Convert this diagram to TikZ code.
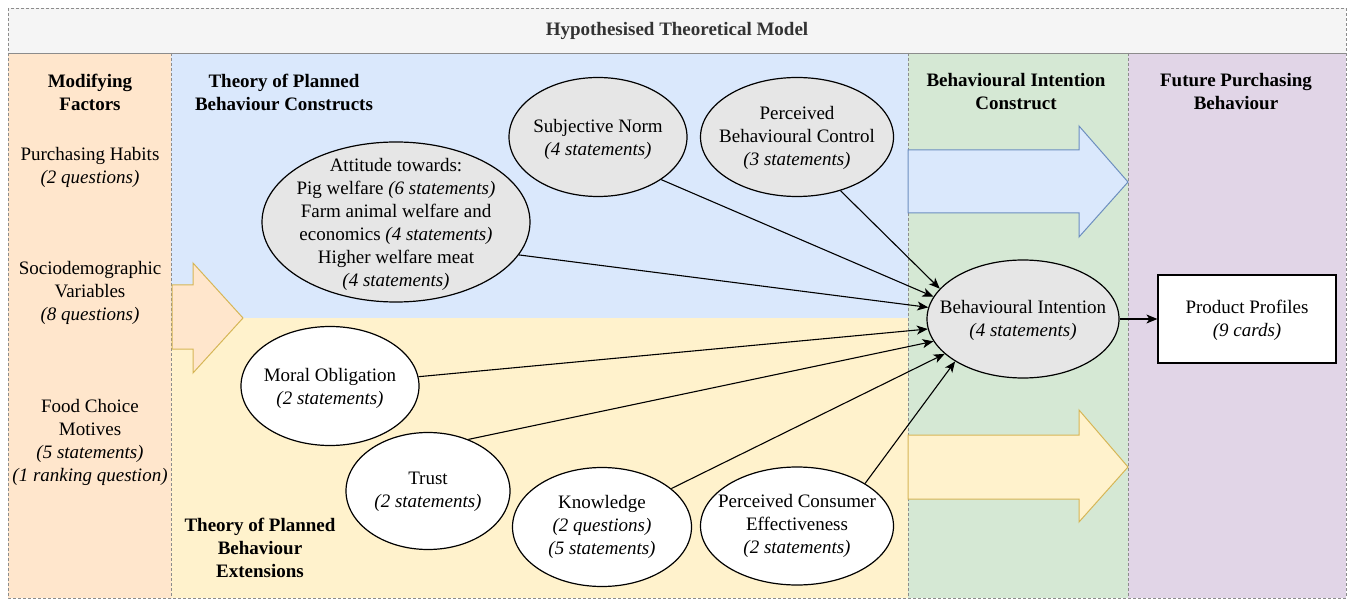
\documentclass[tikz,border=0pt]{standalone}
\usepackage{fontspec}
\setmainfont{LiberationSerif}[Extension=.ttf, UprightFont=*-Regular, BoldFont=*-Bold, ItalicFont=*-Italic, BoldItalicFont=*-BoldItalic]
\usetikzlibrary{shapes.geometric,arrows.meta}
\definecolor{orangebg}{HTML}{FFE6CC}
\definecolor{bluebg}{HTML}{DAE8FC}
\definecolor{yellowbg}{HTML}{FFF2CC}
\definecolor{greenbg}{HTML}{D5E8D4}
\definecolor{purplebg}{HTML}{E1D5E7}
\definecolor{titlebg}{HTML}{F5F5F5}
\definecolor{greyell}{HTML}{E6E6E6}
\definecolor{dashgrey}{HTML}{8C8C8C}
\definecolor{goldline}{HTML}{D6B656}
\definecolor{blueline}{HTML}{6C8EBF}
\definecolor{titletext}{HTML}{333333}
\begin{document}
\begin{tikzpicture}[x=1pt,y=-1pt,
  every node/.style={font=\fontsize{19}{23}\selectfont, text=black, inner sep=0pt},
  dashb/.style={draw=dashgrey, line width=0.8pt, dash pattern=on 3pt off 2pt},
  ellg/.style={ellipse, draw=black, line width=1.2pt, fill=greyell},
  ellw/.style={ellipse, draw=black, line width=1.2pt, fill=white},
  txt/.style={align=center},
  hdr/.style={align=center, font=\fontsize{19}{23}\selectfont\bfseries},
  conn/.style={draw=black, line width=1.1pt, -{Stealth[length=11pt,width=9pt,inset=3pt]}}
]
\useasboundingbox (0,0) rectangle (1351,601);
% backgrounds
\fill[titlebg] (8,8) rectangle (1346,53);
\fill[orangebg] (8,53) rectangle (171,598);
\fill[bluebg] (171,53) rectangle (908,318);
\fill[yellowbg] (171,318) rectangle (908,598);
\fill[greenbg] (908,53) rectangle (1128,598);
\fill[purplebg] (1128,53) rectangle (1346,598);
% dashed borders
\draw[dashb] (8,8) rectangle (1346,53);
\draw[dashb] (8,53) rectangle (1346,598);
\draw[dashb] (171,53) -- (171,598);
\draw[dashb] (908,53) -- (908,598);
\draw[dashb] (1128,53) -- (1128,598);
% big arrows
\draw[fill=orangebg, draw=goldline, line width=1pt] (172,285) -- (193,285) -- (193,263) -- (243,318) -- (193,373) -- (193,349) -- (172,349) -- cycle;
\draw[fill=bluebg, draw=blueline, line width=1pt] (908,150) -- (1079,150) -- (1079,126) -- (1128,182) -- (1079,237) -- (1079,213) -- (908,213) -- cycle;
\draw[fill=yellowbg, draw=goldline, line width=1pt] (908,435) -- (1079,435) -- (1079,410) -- (1128,467) -- (1079,522) -- (1079,499) -- (908,499) -- cycle;
% title and headers
\node[hdr, text=titletext] (title) at (677,31) {Hypothesised Theoretical Model};
\node[hdr] (hmod) at (90,92) {Modifying\\Factors};
\node[hdr] (htpb) at (284,92) {Theory of Planned\\Behaviour Constructs};
\node[hdr] (hbi) at (1016,92) {Behavioural Intention\\Construct};
\node[hdr] (hfp) at (1236,92) {Future Purchasing\\Behaviour};
\node[hdr] (hext) at (260,548) {Theory of Planned\\Behaviour\\Extensions};
% modifying factors
\node[txt] (ph) at (90,167) {Purchasing Habits\\\textit{(2 questions)}};
\node[txt] (sd) at (90,293) {Sociodemographic\\Variables\\\textit{(8 questions)}};
\node[txt] (fc) at (90,442) {Food Choice\\Motives\\\textit{(5 statements)}\\\textit{(1 ranking question)}};
% ellipses
\node[ellg, minimum width=268pt, minimum height=160pt] (att) at (396,222) {};
\node[txt] (attt) at (396,224) {Attitude towards:\\Pig welfare \textit{(6 statements)}\\Farm animal welfare and\\economics \textit{(4 statements)}\\Higher welfare meat\\\textit{(4 statements)}};
\node[ellg, minimum width=178pt, minimum height=119pt] (sn) at (598,137) {};
\node[txt] (snt) at (598,139) {Subjective Norm\\\textit{(4 statements)}};
\node[ellg, minimum width=193pt, minimum height=119pt] (pbc) at (797,137) {};
\node[txt] (pbct) at (797,138) {Perceived\\Behavioural Control\\\textit{(3 statements)}};
\node[ellg, minimum width=192pt, minimum height=118pt] (bi) at (1023,319) {};
\node[txt] (bit) at (1023,320) {Behavioural Intention\\\textit{(4 statements)}};
\node[draw=black, line width=1.2pt, fill=white, minimum width=178pt, minimum height=88pt] (pp) at (1247,319) {};
\node[txt] (ppt) at (1247,320) {Product Profiles\\\textit{(9 cards)}};
\node[ellw, minimum width=178pt, minimum height=119pt] (mo) at (330,386) {};
\node[txt] (mot) at (330,388) {Moral Obligation\\\textit{(2 statements)}};
\node[ellw, minimum width=164pt, minimum height=117pt] (tr) at (428,491) {};
\node[txt] (trt) at (428,492) {Trust\\\textit{(2 statements)}};
\node[ellw, minimum width=179pt, minimum height=119pt] (kn) at (602,527) {};
\node[txt] (knt) at (602,527) {Knowledge\\\textit{(2 questions)}\\\textit{(5 statements)}};
\node[ellw, minimum width=193pt, minimum height=118pt] (pce) at (797,526) {};
\node[txt] (pcet) at (797,526) {Perceived Consumer\\Effectiveness\\\textit{(2 statements)}};
% connectors
\draw[conn] (att.-15) -- (bi.173);
\draw[conn] (sn.-34) -- (bi.166);
\draw[conn] (pbc.-51) -- (bi.160);
\draw[conn] (mo.6) -- (bi.-174);
\draw[conn] (tr.52) -- (bi.-166);
\draw[conn] (kn.29) -- (bi.-156);
\draw[conn] (pce.32) -- (bi.-148);
\draw[conn] (bi.east) -- (pp.west);
\end{tikzpicture}
\end{document}
